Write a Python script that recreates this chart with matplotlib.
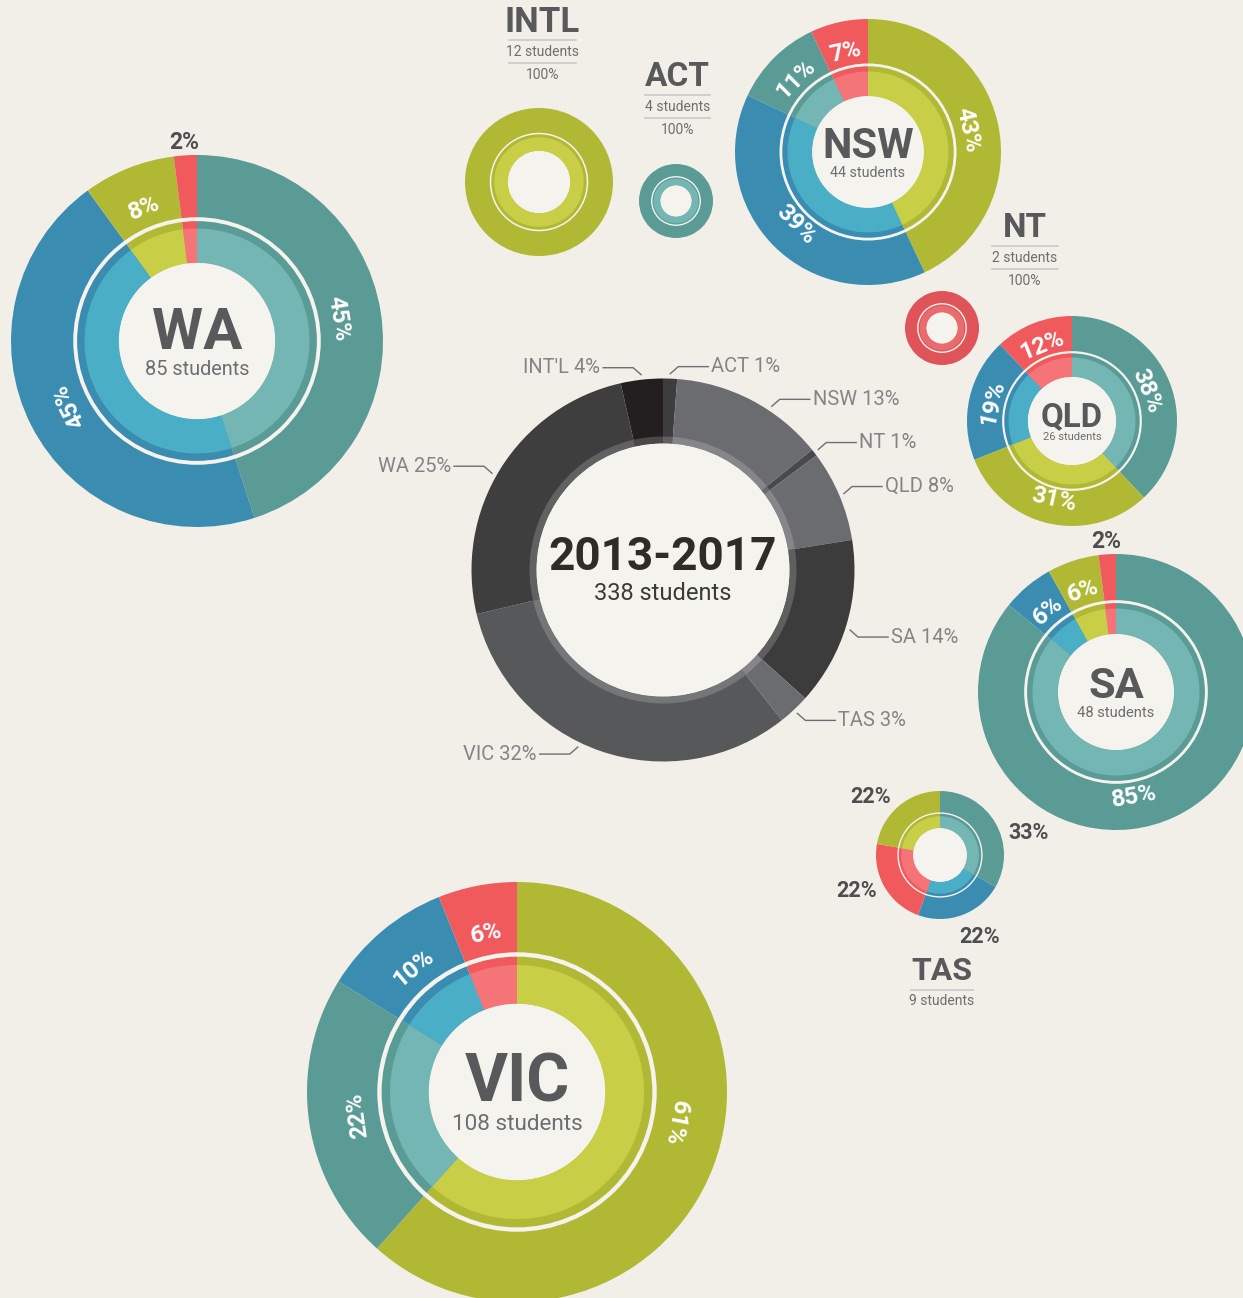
import numpy as np
import matplotlib.pyplot as plt
from matplotlib.patches import Circle

W, H = 1243, 1298
BG = '#f2efe9'
HOLE = '#f5f3ee'
TITLE = '#58595b'
SUB = '#6d6e71'

plt.rcParams['font.family'] = ['Roboto', 'DejaVu Sans']

# programme colours: outer ring / inner ring
outer_col = {'teal': '#5a9b96', 'blue': '#3a8cb1', 'green': '#b1b934', 'red': '#f05a5d'}
inner_col = {'teal': '#74b6b4', 'blue': '#4baec7', 'green': '#c8ce46', 'red': '#f47478'}

# all students by region (middle ring)
regions = ['ACT', 'NSW', 'NT', 'QLD', 'SA', 'TAS', 'VIC', 'WA', "INT'L"]
region_students = [4, 44, 2, 26, 48, 9, 108, 85, 12]
region_pct = [1, 13, 1, 8, 14, 3, 32, 25, 4]
region_cols = ['#3d3d3e', '#6b6c70', '#48494b', '#6b6c70', '#3c3c3d',
               '#6b6c70', '#57585a', '#3e3e3f', '#231f20']
total_students = 338

# state breakdowns, clockwise from 12 o'clock
wa_pct = [45, 45, 8, 2]
wa_keys = ['teal', 'blue', 'green', 'red']
nsw_pct = [43, 39, 11, 7]
nsw_keys = ['green', 'blue', 'teal', 'red']
qld_pct = [38, 31, 19, 12]
qld_keys = ['teal', 'green', 'blue', 'red']
sa_pct = [85, 6, 6, 2]
sa_keys = ['teal', 'blue', 'green', 'red']
tas_pct = [33, 22, 22, 22]
tas_keys = ['teal', 'blue', 'red', 'green']
vic_pct = [61, 22, 10, 6]
vic_keys = ['green', 'teal', 'blue', 'red']

# single programme regions
intl_students, act_students, nt_students = 12, 4, 2

# hand-placed label angles (degrees, counter-clockwise from 3 o'clock)
centre_label_ang = {'NSW': 56.4, 'SA': -17.8, 'VIC': -115.7, 'WA': 150.5}
tas_label_ang = [14, -64, 203, 140]


fig = plt.figure(figsize=(W / 100, H / 100), dpi=100, facecolor=BG)
ax = fig.add_axes([0, 0, 1, 1])
ax.set_facecolor(BG)


def ring(vals, cols, cx, cy, r, width):
    ax.pie(vals, colors=cols, radius=r, center=(cx, H - cy), startangle=90,
           counterclock=False, normalize=True, frame=True,
           wedgeprops=dict(width=width, linewidth=0))


def donut(vals, outer, inner, cx, cy, R):
    ring(vals, outer, cx, cy, R, R * 0.58)
    ring(vals, inner, cx, cy, R * 0.605, R * 0.185)
    ax.add_patch(Circle((cx, H - cy), R * 0.42, color=HOLE, lw=0, zorder=3))
    ax.add_patch(Circle((cx, H - cy), R * 0.655, fill=False, ec=HOLE,
                        lw=max(1.0, R / 186 * 2.8), zorder=3))


def mid_angles(vals):
    v = np.array(vals, dtype=float)
    frac = (np.cumsum(v) - v / 2) / v.sum()
    return 90 - 360 * frac


def state(name, n, vals, keys, cx, cy, R, override=None):
    donut(vals, [outer_col[k] for k in keys], [inner_col[k] for k in keys], cx, cy, R)
    ax.text(cx, H - (cy - 0.04 * R), name, ha='center', va='center',
            fontsize=0.226 * R, fontweight='bold', color=TITLE, zorder=5)
    ax.text(cx, H - (cy + 0.155 * R), f'{n} students', ha='center', va='center',
            fontsize=0.077 * R, color=SUB, zorder=5)
    angs = mid_angles(vals)
    for i, (v, a) in enumerate(zip(vals, angs)):
        if override and i in override:
            a = override[i]
        t = np.deg2rad(a)
        if v <= 2:
            rr = R + 13
            ax.text(cx + rr * np.cos(t), H - cy + rr * np.sin(t), f'{v}%',
                    ha='center', va='center', fontsize=16.5,
                    fontweight='bold', color='#4d4e50', zorder=5)
            continue
        an = (a + 180) % 360 - 180
        rot = an - 90
        if -150 < an < -30:
            rot += 180
        rr = 0.77 * R
        ax.text(cx + rr * np.cos(t), H - cy + rr * np.sin(t), f'{v}%',
                ha='center', va='center', rotation=rot, rotation_mode='anchor',
                fontsize=17.5, fontweight='bold', color='white', zorder=5)


def single(name, n, key, cx, cy, R, ty, lx0, lx1, fs, oc=None, ic=None):
    donut([1], [oc or outer_col[key]], [ic or inner_col[key]], cx, cy, R)
    ax.text((lx0 + lx1) / 2, H - ty, name, ha='center', va='center',
            fontsize=fs, fontweight='bold', color=TITLE)
    ax.plot([lx0, lx1], [H - ty - 18, H - ty - 18], color='#c9c9c9', lw=1.2)
    ax.text((lx0 + lx1) / 2, H - ty - 30, f'{n} students', ha='center', va='center',
            fontsize=10, color=SUB)
    ax.plot([lx0, lx1], [H - ty - 41, H - ty - 41], color='#c9c9c9', lw=1.2)
    ax.text((lx0 + lx1) / 2, H - ty - 53, '100%', ha='center', va='center',
            fontsize=10, color=SUB)


# centre ring: all students
CX, CY, CR, CH = 663, 570, 191.5, 126.5
ring(region_students, region_cols, CX, CY, CR, CR - CH)
band = [tuple(0.82 * np.array(plt.matplotlib.colors.to_rgb(c)) + 0.18) for c in region_cols]
ring(region_students, band, CX, CY, CH + 7, 7)
ax.add_patch(Circle((CX, H - CY), CH, color=HOLE, lw=0, zorder=3))
ax.text(CX, H - 557, '2013-2017', ha='center', va='center', fontsize=33,
        fontweight='bold', color='#2e2b28', zorder=5)
ax.text(CX, H - 593, f'{total_students} students', ha='center', va='center',
        fontsize=17, color='#3a3a3a', zorder=5)

for name, p, a in zip(regions, region_pct, mid_angles(region_students)):
    a = centre_label_ang.get(name, a)
    t = np.deg2rad(a)
    x0 = CX + (CR + 5) * np.cos(t)
    y0 = H - CY + (CR + 5) * np.sin(t)
    sx = 1 if np.cos(t) >= 0 else -1
    sy = 1 if np.sin(t) >= 0 else -1
    if name in ('ACT', "INT'L"):
        sx = 1 if name == 'ACT' else -1
    x1, y1 = x0 + 8 * sx, y0 + 7 * sy
    x2 = x1 + 30 * sx
    ax.plot([x0, x1, x2], [y0, y1, y1], color='#6d6e71', lw=1)
    ax.text(x2 + 3 * sx, y1, f'{name} {p}%', ha='left' if sx > 0 else 'right',
            va='center', fontsize=14.5, color='#838487')

# states
state('WA', 85, wa_pct, wa_keys, 197, 341, 186)
state('NSW', 44, nsw_pct, nsw_keys, 868, 152, 133)
state('QLD', 26, qld_pct, qld_keys, 1072, 421, 105)
state('SA', 48, sa_pct, sa_keys, 1116, 692, 138, override={0: -80})
state('VIC', 108, vic_pct, vic_keys, 517, 1092, 210, override={0: -11})

tas_cx, tas_cy, tas_r = 940, 855, 64
donut(tas_pct, [outer_col[k] for k in tas_keys], [inner_col[k] for k in tas_keys],
      tas_cx, tas_cy, tas_r)
for v, a in zip(tas_pct, tas_label_ang):
    t = np.deg2rad(a)
    ax.text(tas_cx + 91 * np.cos(t), H - tas_cy + 91 * np.sin(t), f'{v}%',
            ha='center', va='center', fontsize=15.5, fontweight='bold', color='#4d4e50')
ax.text(tas_cx + 2, H - 971, 'TAS', ha='center', va='center', fontsize=23,
        fontweight='bold', color=TITLE)
ax.plot([911, 973], [H - 990, H - 990], color='#c9c9c9', lw=1.2)
ax.text(tas_cx + 2, H - 1001, '9 students', ha='center', va='center', fontsize=10, color=SUB)

# single-programme regions
single('INTL', intl_students, 'green', 539, 182, 74, 22, 509, 576, 25)
single('ACT', act_students, 'teal', 676, 201, 37, 77, 645, 710, 24)
single('NT', nt_students, 'red', 942, 328, 37, 228, 992, 1058, 24,
       oc='#de5458', ic='#ea6b6d')

ax.set_xlim(0, W)
ax.set_ylim(0, H)
ax.set_aspect('equal')
ax.axis('off')
fig.savefig('out.png', dpi=100, facecolor=BG)
